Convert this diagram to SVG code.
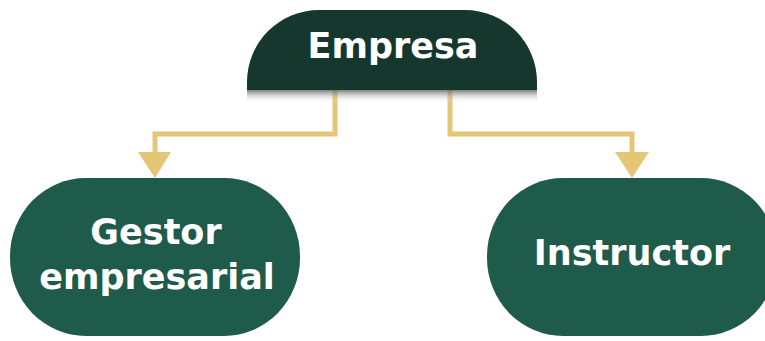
<svg xmlns="http://www.w3.org/2000/svg" width="765" height="341" viewBox="0 0 765 341">
  <defs>
    <linearGradient id="shadow" x1="0" y1="0" x2="0" y2="1">
      <stop offset="0" stop-color="#555" stop-opacity="0.75"/>
      <stop offset="1" stop-color="#fff" stop-opacity="0"/>
    </linearGradient>
    <linearGradient id="goldV" x1="0" y1="90" x2="0" y2="135" gradientUnits="userSpaceOnUse">
      <stop offset="0" stop-color="#b8913a"/>
      <stop offset="1" stop-color="#e6ca7c"/>
    </linearGradient>
    <style>
      .lbl { font-family: "DejaVu Sans", "Liberation Sans", sans-serif; font-weight: 700; fill: #ffffff; text-anchor: middle; font-size: 35px; }
      .conn { fill: none; stroke: #e3c676; stroke-width: 5; }
      .head { fill: #e3c676; }
    </style>
  </defs>
  <rect width="765" height="341" fill="#ffffff"/>
  <g id="connectors">
    <polyline class="conn" points="335,90 335,134 155,134 155,156" stroke="url(#goldV)"/>
    <polyline class="conn" points="450,90 450,134 632,134 632,156" stroke="url(#goldV)"/>
    <polygon class="head" points="138,152 171,152 155,178"/>
    <polygon class="head" points="615,152 649,152 632,178"/>
  </g>
  <g id="node-empresa">
    <rect x="247" y="90" width="290" height="13" fill="url(#shadow)"/>
    <path d="M247,90 L247,82 A72,72 0 0 1 319,10 L465,10 A72,72 0 0 1 537,82 L537,90 Z" fill="#16372e"/>
    <text class="lbl" x="393" y="58">Empresa</text>
  </g>
  <g id="node-gestor">
    <rect x="10" y="178" width="290" height="158" rx="76" ry="78" fill="#1f5b4a"/>
    <text class="lbl" x="156" y="244">Gestor</text>
    <text class="lbl" x="157" y="289">empresarial</text>
  </g>
  <g id="node-instructor">
    <rect x="487" y="178" width="290" height="158" rx="76" ry="78" fill="#1f5b4a"/>
    <text class="lbl" x="632" y="265">Instructor</text>
  </g>
</svg>
